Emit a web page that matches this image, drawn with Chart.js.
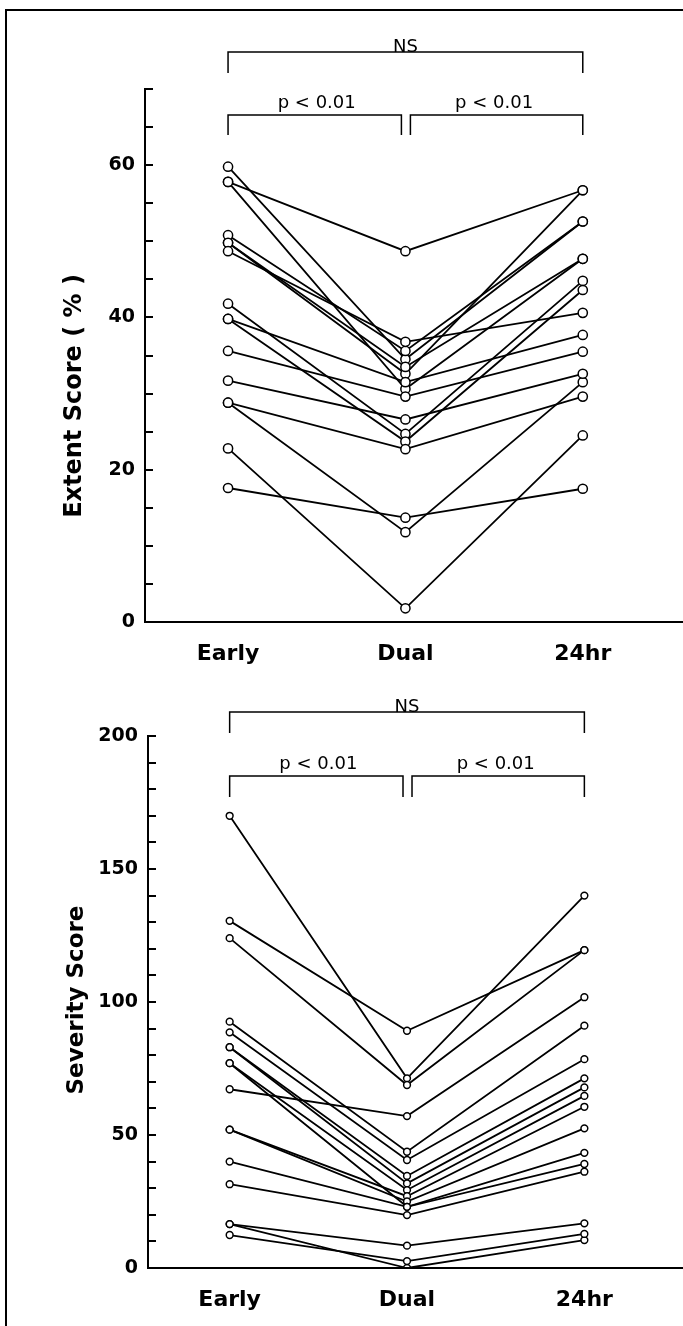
<!DOCTYPE html>
<html>
<head>
<meta charset="utf-8">
<script src="https://cdn.jsdelivr.net/npm/chart.js@4/dist/chart.umd.min.js"></script>
<style>
  html, body { margin: 0; padding: 0; background: #fff; }
  #page { position: relative; width: 683px; height: 1326px; overflow: hidden; }
  #frame { position: absolute; left: 5px; top: 9px; width: 700px; height: 1400px; border-left: 2px solid #000; border-top: 2px solid #000; }
  .wrap { position: absolute; left: 0; width: 683px; }
</style>
</head>
<body>
<div id="page">
  <div id="frame"></div>
  <div class="wrap" style="top:0;height:680px"><canvas id="extent"></canvas></div>
  <div class="wrap" style="top:680px;height:646px"><canvas id="severity"></canvas></div>
</div>
<script>
const categories = ["Early", "Dual", "24hr"];

// Extent score (%), one entry per patient
const extentEarly = [57.8, 17.6, 22.8, 28.8, 59.8, 57.8, 49.8, 50.8, 49.8, 48.7, 41.8, 39.8, 39.8, 35.6, 31.7, 28.8];
const extentDual  = [48.7, 13.7, 1.8, 11.8, 34.5, 30.6, 32.6, 35.6, 33.5, 36.8, 24.7, 23.7, 31.5, 29.6, 26.6, 22.7];
const extent24hr  = [56.7, 17.5, 24.5, 31.5, 52.6, 47.7, 56.7, 52.6, 47.7, 40.6, 44.8, 43.6, 37.7, 35.5, 32.6, 29.6];
const extentTicks = [0, 20, 40, 60];
const extentMinor = [0, 5, 10, 15, 20, 25, 30, 35, 40, 45, 50, 55, 60, 65, 70];

// Severity score
const sevEarly = [170, 130.5, 124, 92.6, 88.6, 83, 83, 77, 67.2, 52, 52, 40, 31.5, 16.5, 16.5, 12.4, 77];
const sevDual  = [71.3, 89.2, 68.8, 43.7, 40.6, 34.6, 31.8, 29.3, 57.1, 27, 25, 23, 19.9, 8.4, 0, 2.6, 23];
const sev24hr  = [140, 119.5, 119.5, 91.1, 78.5, 71.3, 67.9, 64.7, 101.8, 60.6, 52.5, 43.3, 36.2, 16.8, 10.5, 12.8, 39.1];
const sevTicks = [0, 50, 100, 150, 200];
const sevMinor = [0, 10, 20, 30, 40, 50, 60, 70, 80, 90, 100, 110, 120, 130, 140, 150, 160, 170, 180, 190, 200];

const pValue = "p < 0.01";
const nsText = "NS";

function makeDatasets(early, dual, late, radius) {
    const sets = [];
    const pts = [];
    for (let i = 0; i < early.length; i++) {
        const row = [early[i], dual[i], late[i]].map((v, j) => ({x: j, y: v}));
        sets.push({
            data: row,
            borderColor: "#000",
            borderWidth: 1.8,
            pointRadius: 0,
            order: 1
        });
        pts.push(...row);
    }
    sets.push({
        data: pts,
        showLine: false,
        pointRadius: radius,
        pointBackgroundColor: "#fff",
        pointBorderColor: "#000",
        pointBorderWidth: 1.5,
        order: 0
    });
    return sets;
}

// inside ticks, y title and the significance brackets
const extras = {
    id: "extras",
    afterDraw(chart) {
        const o = chart.options.plugins.extras;
        const ctx = chart.ctx;
        const xs = chart.scales.x, ys = chart.scales.y;
        const area = chart.chartArea;
        ctx.save();
        ctx.strokeStyle = "#000";
        ctx.fillStyle = "#000";

        // carry the x axis on to the edge
        ctx.lineWidth = 2;
        ctx.beginPath();
        ctx.moveTo(area.left, area.bottom);
        ctx.lineTo(chart.width, area.bottom);
        ctx.stroke();

        ctx.lineWidth = 1.8;
        ctx.beginPath();
        o.minor.forEach(v => {
            const y = Math.round(ys.getPixelForValue(v));
            ctx.moveTo(area.left, y);
            ctx.lineTo(area.left + 8, y);
        });
        ctx.stroke();

        // y title
        ctx.font = "bold " + o.titleSize + "px 'DejaVu Sans'";
        ctx.textAlign = "center";
        ctx.textBaseline = "middle";
        ctx.save();
        ctx.translate(o.titleX, o.titleY);
        ctx.rotate(-Math.PI / 2);
        ctx.fillText(o.title, 0, 0);
        ctx.restore();

        // brackets
        const x0 = xs.getPixelForValue(0), x1 = xs.getPixelForValue(1), x2 = xs.getPixelForValue(2);
        const b = o.brackets;
        ctx.lineWidth = 1.5;
        const bracket = (a, c, yLine, yEnd) => {
            ctx.beginPath();
            ctx.moveTo(a, yEnd);
            ctx.lineTo(a, yLine);
            ctx.lineTo(c, yLine);
            ctx.lineTo(c, yEnd);
            ctx.stroke();
        };
        bracket(x0, x2, b.nsLine, b.nsEnd);
        bracket(x0, x1 - 4, b.pLine, b.pEnd);
        bracket(x1 + 5, x2, b.pLine, b.pEnd);
        ctx.font = "18px 'DejaVu Sans'";
        ctx.textBaseline = "alphabetic";
        ctx.fillText(nsText, x1, b.nsLine);
        ctx.fillText(pValue, (x0 + x1) / 2, b.pLine - 7);
        ctx.fillText(pValue, (x1 + x2) / 2, b.pLine - 7);
        ctx.restore();
    }
};

function makeChart(id, cfg) {
    const xMin = (cfg.axisX - cfg.earlyX) / cfg.step;
    const xMax = (683 - cfg.earlyX) / cfg.step;
    return new Chart(document.getElementById(id), {
        type: "line",
        data: { datasets: makeDatasets(cfg.early, cfg.dual, cfg.late, cfg.radius) },
        options: {
            responsive: true,
            maintainAspectRatio: false,
            animation: false,
            events: [],
            layout: { padding: { top: cfg.top, left: 0, right: 0, bottom: 0 } },
            plugins: {
                legend: { display: false },
                tooltip: { enabled: false },
                extras: {
                    minor: cfg.minor,
                    title: cfg.title,
                    titleX: cfg.titleX,
                    titleY: cfg.titleY,
                    titleSize: cfg.titleSize,
                    brackets: cfg.brackets
                }
            },
            scales: {
                x: {
                    type: "linear",
                    min: xMin,
                    max: xMax,
                    afterBuildTicks: s => { s.ticks = categories.map((c, i) => ({value: i})); },
                    afterFit: s => { s.height = cfg.xHeight; },
                    grid: { display: false, drawTicks: false },
                    border: { display: true, color: "#000", width: 2 },
                    ticks: {
                        padding: cfg.xPad,
                        color: "#000",
                        font: { family: "DejaVu Sans", weight: "bold", size: 22 },
                        callback: v => categories[v]
                    }
                },
                y: {
                    min: 0,
                    max: cfg.max,
                    afterBuildTicks: s => { s.ticks = cfg.ticks.map(v => ({value: v})); },
                    afterFit: s => { s.width = cfg.axisX; },
                    grid: { display: false, drawTicks: false },
                    border: { display: true, color: "#000", width: 2 },
                    ticks: {
                        padding: 10,
                        color: "#000",
                        font: { family: "DejaVu Sans", weight: "bold", size: 19 }
                    }
                }
            }
        },
        plugins: [extras]
    });
}

makeChart("extent", {
    early: extentEarly, dual: extentDual, late: extent24hr,
    ticks: extentTicks, minor: extentMinor, max: 70,
    axisX: 145, earlyX: 229, step: 179.4, top: 89, xHeight: 58, xPad: 19, radius: 4.6,
    title: "Extent Score ( % )", titleX: 75, titleY: 396, titleSize: 24,
    brackets: { nsLine: 52, nsEnd: 73, pLine: 115, pEnd: 135 }
});

makeChart("severity", {
    early: sevEarly, dual: sevDual, late: sev24hr,
    ticks: sevTicks, minor: sevMinor, max: 200,
    axisX: 148, earlyX: 230.5, step: 179.2, top: 56, xHeight: 58, xPad: 19, radius: 3.4,
    title: "Severity Score", titleX: 77, titleY: 320, titleSize: 23,
    brackets: { nsLine: 32, nsEnd: 53, pLine: 96, pEnd: 117 }
});
</script>
</body>
</html>
